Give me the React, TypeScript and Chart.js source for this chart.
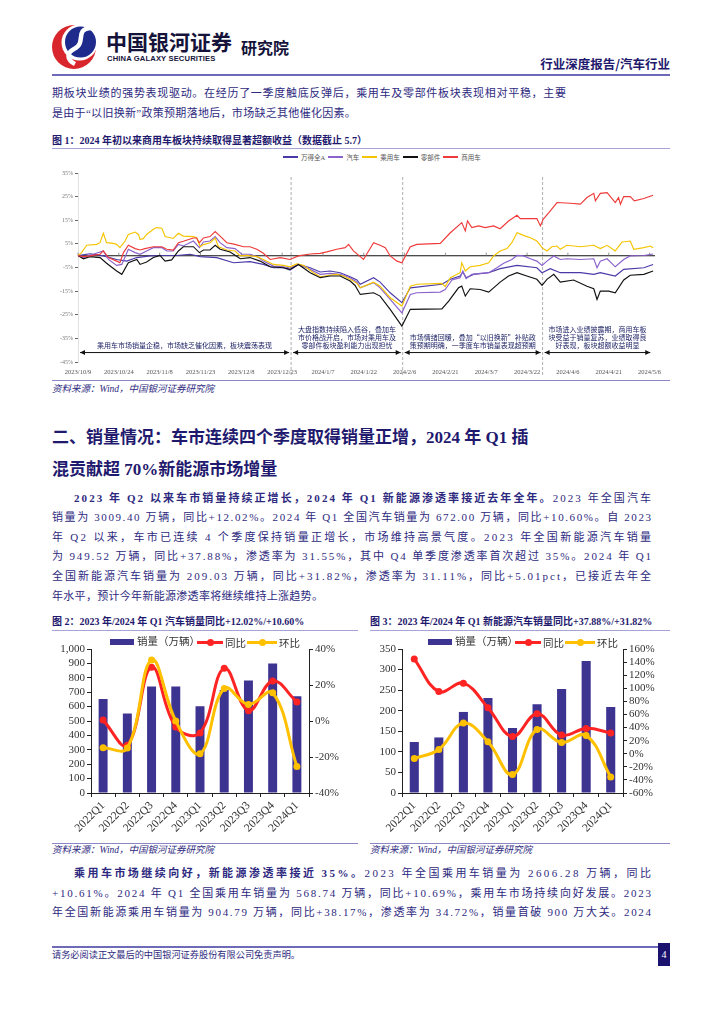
import React, { useEffect, useLayoutEffect, useRef } from "react";
import { Chart, registerables } from "chart.js";

Chart.register(...registerables);

const SERIF = "'Liberation Serif', 'Noto Sans CJK SC', serif";
const TXT = "#2e2a80";
const HEAD = "#1f1a6e";

// ---------------- Figure 1: relative returns (day offset from 2023/10/9, %) ----------------
const fig1Names = ["万得全A", "汽车", "乘用车", "零部件", "商用车"];
const fig1Colors = ["#4a3aa8", "#8a62cc", "#f5c400", "#111111", "#ef3a3a"];
const fig1TickDays = [0, 15, 30, 45, 60, 75, 90, 105, 120, 135, 150, 165, 180, 195, 210];
const fig1TickLabels = [
  "2023/10/9", "2023/10/24", "2023/11/8", "2023/11/23", "2023/12/8", "2023/12/23", "2024/1/7",
  "2024/1/22", "2024/2/6", "2024/2/21", "2024/3/7", "2024/3/22", "2024/4/6", "2024/4/21", "2024/5/6",
];
const fig1YTicks = [-45, -35, -25, -15, -5, 5, 15, 25, 35];

const wdaDays = [0, 4.4, 9.3, 14.2, 17.9, 21.6, 26.5, 31.4, 36.3, 41.2, 44.9, 51, 57.1, 63.2, 68.1, 71.8, 75.5, 77.9, 81, 85.3, 89, 92.6, 96.3, 100, 102.5, 103.7, 108.6, 111, 114.7, 119, 122.1, 133.7, 136.8, 140.4, 141.4, 142.6, 145.3, 150.9, 155.1, 161.3, 168.6, 170.5, 173.5, 177.2, 184.6, 189.5, 191.9, 197.4, 200.5, 207.9, 211.3];
const wdaVals = [0, 0.8, -0.1, -1.6, -2.3, -0.8, -0.1, 0.1, 0.1, 0.6, -0.4, -0.8, -3, -2.5, -3.7, -5.1, -5.1, -6.1, -3.7, -5.1, -6.9, -6.5, -7.2, -8.9, -10.3, -12.1, -9.3, -11.2, -15.7, -19.9, -13.6, -12.1, -10, -8.6, -6.9, -9.3, -7.9, -7.2, -5.5, -4.1, -5.1, -7.2, -5.5, -7.2, -7.2, -7.9, -7.2, -8.6, -5.8, -5.1, -3.7];

const autoDays = [0, 2, 5.6, 9.3, 11.2, 14.2, 16.1, 18.5, 21, 22.8, 25.2, 27.7, 30.8, 32.6, 35, 36.9, 38.7, 42.4, 44.6, 46.1, 48.5, 50.4, 52.2, 54.7, 57.7, 60.2, 63.2, 65.7, 68.1, 71.8, 75.5, 77.9, 81, 85.3, 89, 92.6, 96.3, 100, 102.5, 103.7, 108.6, 111, 114.7, 119, 122.1, 124.5, 133.1, 134.9, 137.4, 140.4, 141.4, 142.6, 144.7, 147.8, 150.9, 153.9, 156.4, 159.4, 161.3, 163.7, 166.2, 168.6, 170.5, 172.3, 174.8, 177.2, 179.6, 184.6, 189.5, 190.7, 191.9, 194.4, 197.4, 200.5, 202.9, 207.9, 211.3];
const autoVals = [0, -0.8, 0.6, 2, -1.6, -4.1, -3.7, 2.7, 1.3, 0.6, 2, 3.4, 3.4, 2, 2, 4.8, 4.1, 6.2, 3.4, 5.8, 6.2, 8.1, 5.5, 3.4, 3, 0.6, 0.6, -0.4, -2.3, -4.4, -4.7, -5.2, -3.7, -5.8, -7.9, -7.5, -7.9, -9.3, -11.2, -13.6, -11.4, -13.6, -18.5, -24.2, -16.4, -15.7, -15.4, -14.3, -10.3, -9.3, -6.5, -9.7, -7.9, -7.5, -7.2, -5.1, -3.2, -1.6, 0.1, -0.1, -1.3, -2.3, -4.1, -2.3, -0.1, -1.6, -1.3, -1.6, -1.3, -5.1, -2.3, -1.3, -4.7, -1.6, -0.1, 0.1, 0.7];

const pvDays = [0, 1.3, 3.2, 6.9, 8.1, 9.3, 10.5, 13, 14.2, 15.4, 17.3, 18.5, 21, 22.2, 22.8, 24, 25.2, 27.7, 28.9, 30.8, 32, 35, 36.9, 38.7, 42.4, 43.6, 44.9, 46.1, 48.5, 50.4, 51.6, 54.7, 57.7, 59.6, 62, 65.7, 68.1, 71.8, 75.5, 77.9, 80.4, 82.8, 86.5, 89, 92.6, 95.1, 97.5, 100, 102.5, 103.7, 108.6, 111, 114.7, 119, 122.1, 124.5, 133.7, 134.9, 136.8, 140.4, 141, 142.3, 144.1, 147.8, 150.9, 152.7, 155.1, 157.6, 159.4, 161.3, 163.7, 166.2, 168.6, 170.5, 172.3, 174.1, 176, 177.2, 179.6, 184.6, 189.5, 191.9, 194.4, 197.4, 199.9, 202.9, 204.2, 207.9, 210.3, 211.3];
const pvVals = [0, 1.3, 4.4, 4.8, 5.5, 9.5, 5.5, 5.2, 4.8, 3.4, 6.2, 9, 10, 9, 6.9, 7.2, 9, 11.2, 11.9, 11.6, 8.1, 7.3, 9.5, 8.3, 8.1, 7.6, 3.8, 4.7, 5.5, 7.5, 3.8, 2.4, 2, -0.1, 0.1, -0.4, -1.6, -3.7, -4.1, -4.7, -3.5, -4.1, -7.2, -8.9, -8.3, -7.9, -8.6, -10, -11.7, -13.6, -11.2, -12.9, -17.8, -21.3, -12.9, -12.1, -11.7, -13.1, -9.3, -7.2, -3, -6.5, -4.7, -4.1, -3, -0.1, 2, 3, 5.5, 9.7, 8.6, 7.6, 6.2, 3.4, 2, 3.8, 4.1, 2.7, 4.4, 3.8, 4.4, 3, 4.4, 2, 5.8, 6.2, 2.7, 3.4, 4.1, 3.4];

const partsDays = [0, 2, 4.4, 8.1, 10.5, 14.2, 16.1, 18.5, 21.6, 22.8, 25.2, 27.7, 30.1, 32, 34.4, 36.9, 38.7, 42.4, 44.6, 46.1, 48.5, 50.4, 52.2, 55.9, 59.6, 63.2, 66.9, 70.6, 75.5, 77.9, 81, 85.3, 89, 92.6, 96.3, 100, 101.8, 103.7, 108.6, 111, 114.7, 119, 122.1, 133.7, 136.2, 139.8, 141, 142.3, 144.1, 147.8, 150.9, 155.1, 158.2, 161.3, 164.9, 168.6, 170.5, 172.3, 174.8, 177.2, 182.1, 187, 189.5, 190.7, 191.9, 195, 197.4, 200.5, 202.9, 207.9, 211.3];
const partsVals = [0, -1.3, -0.4, -0.8, -3.2, -6.5, -7.9, -3, -1.6, -3.7, -2.7, -0.8, 0.1, -2.3, -1.8, 2, 3.8, 3.8, 1.3, 2.4, 2.4, 4.4, 2.7, 1.6, -1.3, -0.8, -2.3, -4.7, -5.1, -5.8, -3.7, -7.2, -9.3, -8.6, -8.6, -10.7, -12.6, -16.4, -15.7, -17.1, -22.7, -29.8, -22.7, -22.5, -19.2, -13.6, -12.9, -17.1, -14, -14.3, -15.4, -11.2, -8.6, -7.2, -8.6, -10, -12.6, -10, -7.9, -11.2, -10.3, -12.9, -14, -18.5, -15, -15, -15.7, -10.3, -8.3, -7.9, -6.5];

const cvDays = [0, 2, 4.4, 8.1, 9.3, 11.2, 14.2, 15.4, 16.7, 18.5, 21, 22.8, 24.6, 27.7, 30.8, 32.6, 35, 36.9, 38.7, 42.4, 43.6, 44.6, 46.1, 48.5, 50.4, 52.2, 54.7, 57.7, 60.8, 63.2, 65.7, 68.1, 70.6, 74.3, 77.9, 81, 85.3, 89, 91.4, 95.1, 98.2, 99.4, 101.2, 103.7, 104.9, 108.6, 111, 112.9, 114.7, 117.2, 119, 122.1, 124.5, 133.1, 136.8, 141, 142.3, 143.1, 144.7, 147.2, 149.6, 152.7, 155.1, 158.2, 161.3, 162.5, 165, 168.6, 169.9, 170.9, 173, 176, 180.9, 184.6, 187, 189.5, 190.1, 191.9, 194.4, 197.4, 198.6, 199.3, 200.5, 202.9, 204.4, 207.9, 211.3];
const cvVals = [0, -0.4, -0.1, 0.6, 2, -0.8, -2.3, -3, 1.3, 4.4, 3, 2.4, 3, 3.8, 3.8, 2.7, 2.4, 5.5, 6.1, 7.5, 7.5, 5.5, 7.5, 8.1, 10.2, 8.3, 5.5, 4.8, 3.8, 3.8, 2.7, 1, -1.6, -0.8, -1.6, -0.1, 0.7, 1, 1.6, 2.7, 3.4, 4.8, 2, -0.4, -1.6, 5.5, 4.4, 3.4, -0.1, -2.3, -3, 3.8, 4.8, 5.2, 9.7, 14, 10.5, 14.7, 11.9, 12.6, 11.9, 12.6, 11.4, 14.7, 17.1, 15.7, 15.7, 15.7, 12.6, 15.4, 18.2, 22.5, 22.2, 21.8, 24.6, 26.4, 23.2, 26.4, 26.7, 22.5, 24.6, 21.8, 25, 25, 23.2, 24.2, 25.6];

const fig1PhaseBreaks = [78.3, 119.3, 170.7];
const fig1PhaseTexts = [
  ["乘用车市场销量企稳，市场缺乏催化因素，板块震荡表现"],
  ["大盘指数持续陷入低谷，叠加车", "市价格战开启，市场对乘用车及", "零部件板块盈利能力出现担忧"],
  ["市场情绪回暖，叠加“以旧换新”补贴政", "策预期明确，一季度车市销量表现超预期"],
  ["市场进入业绩披露期，商用车板", "块受益于销量复苏，业绩取得良", "好表现，板块超额收益明显"],
];
const fig1ArrowValue = -41;

// ---------------- Figure 2 / 3: quarterly sales ----------------
const quarters = ["2022Q1", "2022Q2", "2022Q3", "2022Q4", "2023Q1", "2023Q2", "2023Q3", "2023Q4", "2024Q1"];
const fig2Sales = [652, 552, 740, 740, 603, 715, 782, 900, 672];
const fig2Yoy = [0.5, -13.5, 29.9, -3.3, -6.6, 29.3, 5.7, 22.2, 10.6];
const fig2Qoq = [-14.8, -15.0, 33.9, 0.0, -18.2, 18.1, 9.2, 15.7, -25.3];
const fig3Sales = [124, 135, 197, 231, 158, 216, 253, 321, 209];
const fig3Yoy = [144.6, 95.0, 107.8, 70.4, 26.4, 61.2, 28.5, 38.7, 31.8];
const fig3Qoq = [-7.3, 6.5, 46.9, 18.3, -31.9, 37.2, 17.2, 28.0, -35.4];

const BAR = "#3d3391";
const RED = "#ff2424";
const YEL = "#ffc000";

const zip = (xs: number[], ys: number[]) => xs.map((x, i) => ({ x, y: ys[i] }));

const fig1Overlay = {
  id: "fig1Overlay",
  beforeDatasetsDraw(chart: any) {
    const { ctx, chartArea, scales } = chart;
    const xs = scales.x;
    const ys = scales.y;
    const y0 = ys.getPixelForValue(0);
    ctx.save();
    ctx.strokeStyle = "#111";
    ctx.lineWidth = 1.1;
    ctx.beginPath();
    ctx.moveTo(chartArea.left, y0);
    ctx.lineTo(chartArea.right, y0);
    ctx.stroke();
    ctx.strokeStyle = "#777";
    ctx.lineWidth = 0.8;
    fig1TickDays.forEach((d) => {
      const px = xs.getPixelForValue(d);
      ctx.beginPath();
      ctx.moveTo(px, y0);
      ctx.lineTo(px, y0 - 3);
      ctx.stroke();
    });
    ctx.setLineDash([3, 2]);
    ctx.strokeStyle = "#999";
    fig1PhaseBreaks.forEach((d) => {
      const px = xs.getPixelForValue(d);
      ctx.beginPath();
      ctx.moveTo(px, chartArea.top + 4);
      ctx.lineTo(px, chartArea.bottom + 14);
      ctx.stroke();
    });
    ctx.restore();
  },
  afterDatasetsDraw(chart: any) {
    const { ctx, scales } = chart;
    const xs = scales.x;
    const ys = scales.y;
    const ay = ys.getPixelForValue(fig1ArrowValue);
    const starts = [fig1TickDays[0], ...fig1PhaseBreaks];
    const ends = [...fig1PhaseBreaks, xs.max - 1];
    ctx.save();
    fig1PhaseTexts.forEach((lines, i) => {
      const x1 = xs.getPixelForValue(starts[i]) + 2;
      const x2 = xs.getPixelForValue(ends[i]) - 2;
      ctx.strokeStyle = "#111";
      ctx.fillStyle = "#111";
      ctx.lineWidth = 1;
      ctx.beginPath();
      ctx.moveTo(x1, ay);
      ctx.lineTo(x2, ay);
      ctx.stroke();
      [[x1, 1], [x2, -1]].forEach(([x, dir]) => {
        ctx.beginPath();
        ctx.moveTo(x, ay);
        ctx.lineTo(x + dir * 5, ay - 2.5);
        ctx.lineTo(x + dir * 5, ay + 2.5);
        ctx.closePath();
        ctx.fill();
      });
      const cx = (x1 + x2) / 2;
      ctx.fillStyle = "#1f2466";
      ctx.font = "7px 'Noto Sans CJK SC', sans-serif";
      ctx.textAlign = "center";
      ctx.textBaseline = "middle";
      const n = lines.length;
      lines.forEach((t, j) => {
        ctx.fillText(t, cx, ay - 7 - (n - 1 - j) * 8);
      });
    });
    ctx.restore();
  },
};

function makeFig1(): any {
  const sets = [
    [wdaDays, wdaVals],
    [autoDays, autoVals],
    [pvDays, pvVals],
    [partsDays, partsVals],
    [cvDays, cvVals],
  ];
  return {
    type: "line",
    data: {
      datasets: sets.map(([d, v], i) => ({
        label: fig1Names[i],
        data: zip(d, v),
        borderColor: fig1Colors[i],
        backgroundColor: fig1Colors[i],
        borderWidth: 1.15,
        pointRadius: 0,
        tension: 0,
        order: i === 4 ? 0 : 5 - i,
      })),
    },
    options: {
      animation: false,
      responsive: false,
      layout: { padding: { top: 23, right: 15, left: 0, bottom: 0 } },
      plugins: { legend: { display: false }, tooltip: { enabled: false } },
      scales: {
        x: {
          type: "linear",
          min: 0,
          max: 212,
          afterBuildTicks: (s: any) => {
            s.ticks = fig1TickDays.map((v) => ({ value: v }));
          },
          ticks: {
            callback: (_v: any, i: number) => fig1TickLabels[i],
            autoSkip: false,
            maxRotation: 0,
            minRotation: 0,
            font: { size: 6.5, family: SERIF },
            color: "#555",
            padding: 6,
          },
          grid: { display: false, drawTicks: false },
          border: { display: false },
          afterFit: (s: any) => {
            s.height = 18;
          },
        },
        y: {
          min: -45,
          max: 35,
          afterBuildTicks: (s: any) => {
            s.ticks = fig1YTicks.map((v) => ({ value: v }));
          },
          ticks: {
            callback: (v: any) => v + "%",
            autoSkip: false,
            font: { size: 6, family: SERIF },
            color: "#777",
            padding: 2,
          },
          grid: { drawOnChartArea: false, tickLength: 3, color: "#666" },
          border: { color: "#e2e2e2" },
          afterFit: (s: any) => {
            s.width = 28;
          },
        },
      },
    },
    plugins: [fig1Overlay],
  };
}

function makeBarLine(sales: number[], yoy: number[], qoq: number[], lmax: number, lstep: number, rmin: number, rmax: number, lw: number, rw: number): any {
  const tickFont = { size: 11, family: SERIF };
  return {
    type: "bar",
    data: {
      labels: quarters,
      datasets: [
        { type: "line", label: "环比", data: qoq, yAxisID: "y1", borderColor: YEL, backgroundColor: YEL, borderWidth: 3, pointRadius: 3.5, pointBorderWidth: 0, tension: 0.4, order: 0 },
        { type: "line", label: "同比", data: yoy, yAxisID: "y1", borderColor: RED, backgroundColor: RED, borderWidth: 3, pointRadius: 3.5, pointBorderWidth: 0, tension: 0.4, order: 1 },
        { type: "bar", label: "销量（万辆）", data: sales, yAxisID: "y", backgroundColor: BAR, barPercentage: 0.37, categoryPercentage: 1, order: 2 },
      ],
    },
    options: {
      animation: false,
      responsive: false,
      layout: { padding: { top: 17, right: 0, left: 0, bottom: 0 } },
      plugins: { legend: { display: false }, tooltip: { enabled: false } },
      scales: {
        x: {
          ticks: { maxRotation: 45, minRotation: 45, autoSkip: false, font: { size: 11.5, family: SERIF }, color: "#333", padding: 2 },
          grid: { drawOnChartArea: false, tickLength: 4, color: "#222" },
          border: { color: "#222" },
          afterFit: (s: any) => {
            s.height = 49;
          },
        },
        y: {
          position: "left",
          min: 0,
          max: lmax,
          ticks: { stepSize: lstep, autoSkip: false, callback: (v: any) => Number(v).toLocaleString("en-US"), font: tickFont, color: "#333", padding: 2 },
          grid: { drawOnChartArea: false, tickLength: 4, color: "#222" },
          border: { color: "#222" },
          afterFit: (s: any) => {
            s.width = lw;
          },
        },
        y1: {
          position: "right",
          min: rmin,
          max: rmax,
          ticks: { stepSize: 20, autoSkip: false, callback: (v: any) => v + "%", font: tickFont, color: "#333", padding: 2 },
          grid: { drawOnChartArea: false, tickLength: 4, color: "#222" },
          border: { color: "#222" },
          afterFit: (s: any) => {
            s.width = rw;
          },
        },
      },
    },
  };
}

function ChartBox({ make, left, top, width, height }: { make: () => any; left: number; top: number; width: number; height: number }) {
  const ref = useRef<HTMLCanvasElement>(null);
  useEffect(() => {
    const chart = new Chart(ref.current as HTMLCanvasElement, make());
    return () => chart.destroy();
  }, []);
  return (
    <canvas
      ref={ref}
      width={width}
      height={height}
      style={{ position: "absolute", left, top, width, height }}
    />
  );
}

type TProps = {
  x: number;
  y: number;
  size: number;
  bold?: boolean;
  italic?: boolean;
  color?: string;
  right?: boolean;
  ls?: number;
  family?: string;
  children: React.ReactNode;
};

function T({ x, y, size, bold, italic, color, right, ls, family, children }: TProps) {
  const h = Math.round(size * 1.4);
  const style: React.CSSProperties = {
    position: "absolute",
    top: y - h / 2,
    height: h,
    lineHeight: h + "px",
    fontSize: size,
    fontFamily: family || SERIF,
    fontWeight: bold ? 700 : 400,
    fontStyle: italic ? "italic" : "normal",
    color: color || TXT,
    letterSpacing: ls === undefined ? 0 : ls,
    whiteSpace: "nowrap",
  };
  if (right) {
    style.right = 724 - x;
  } else {
    style.left = x;
  }
  return <div style={style}>{children}</div>;
}

// A line of body text spread to an exact width by measuring and setting letter-spacing.
function J({ x, y, w, size, children }: { x: number; y: number; w: number; size: number; children: React.ReactNode }) {
  const ref = useRef<HTMLSpanElement>(null);
  useLayoutEffect(() => {
    const el = ref.current;
    if (!el) return;
    el.style.letterSpacing = "0px";
    const nat = el.getBoundingClientRect().width;
    const n = (el.textContent || "").length;
    if (n > 1) el.style.letterSpacing = (w - nat) / (n - 1) + "px";
  }, []);
  const h = Math.round(size * 1.4);
  return (
    <div style={{ position: "absolute", left: x, top: y - h / 2, height: h, lineHeight: h + "px", fontSize: size, fontFamily: SERIF, color: TXT, whiteSpace: "nowrap" }}>
      <span ref={ref}>{children}</span>
    </div>
  );
}

function HLine({ x, y, w, h, c }: { x: number; y: number; w: number; h: number; c: string }) {
  return <div style={{ position: "absolute", left: x, top: y, width: w, height: h, background: c }} />;
}

function Legend3({ x, y }: { x: number; y: number }) {
  const item = (color: string, label: string, dx: number, lineW: number) => (
    <div style={{ position: "absolute", left: dx, top: 0, height: 14, display: "flex", alignItems: "center" }}>
      <div style={{ position: "relative", width: lineW, height: 14 }}>
        <div style={{ position: "absolute", left: 0, top: 5.5, width: lineW, height: 3, background: color }} />
        <div style={{ position: "absolute", left: lineW / 2 - 3.5, top: 3.5, width: 7, height: 7, borderRadius: 4, background: color }} />
      </div>
      <span style={{ marginLeft: 2, fontSize: 10.5, fontFamily: SERIF, color: "#333" }}>{label}</span>
    </div>
  );
  return (
    <div style={{ position: "absolute", left: x, top: y - 7, width: 200, height: 14 }}>
      <div style={{ position: "absolute", left: 0, top: 4, width: 24, height: 6, background: BAR }} />
      <span style={{ position: "absolute", left: 27, top: 0, lineHeight: "14px", fontSize: 10.5, fontFamily: SERIF, color: "#333", whiteSpace: "nowrap" }}>销量（万辆）</span>
      {item(RED, "同比", 87, 26)}
      {item(YEL, "环比", 137, 30)}
    </div>
  );
}

function Logo() {
  return (
    <svg style={{ position: "absolute", left: 50, top: 21 }} width="50" height="48" viewBox="0 0 50 48">
      <circle cx="24" cy="26" r="22" fill="#d9262c" />
      <circle cx="29.5" cy="21.5" r="18" fill="#ffffff" />
      <circle cx="30.5" cy="21" r="15.5" fill="#1e2b8c" />
      <path d="M 41 7 C 24 8, 37 22, 24 28 C 16 32, 17 39, 25 43" stroke="#ffffff" strokeWidth="4.5" fill="none" />
    </svg>
  );
}

export default function App() {
  return (
    <div style={{ position: "absolute", left: 0, top: 0, width: 724, height: 1024, background: "#fff", overflow: "hidden" }}>
      <Logo />
      <T x={106} y={41} size={21} bold color="#15133a" family="'Noto Sans CJK SC', sans-serif">中国银河证券</T>
      <T x={107} y={58} size={7.6} bold color="#15133a" family="'Liberation Sans', Arial, sans-serif" ls={0.15}>CHINA GALAXY SECURITIES</T>
      <T x={241} y={47} size={16} bold color="#15133a" family="'Noto Sans CJK SC', sans-serif">研究院</T>
      <T x={670} y={64} size={12.5} bold right color={HEAD} family="'Noto Sans CJK SC', sans-serif">行业深度报告/汽车行业</T>
      <HLine x={52} y={74} w={618} h={2} c="#6f6ab8" />

      <J x={52} y={93} size={11} w={514}>期板块业绩的强势表现驱动。在经历了一季度触底反弹后，乘用车及零部件板块表现相对平稳，主要</J>
      <T x={52} y={113} size={11} ls={0.3}>是由于“以旧换新”政策预期落地后，市场缺乏其他催化因素。</T>

      <T x={52} y={141} size={10} bold color={HEAD}>图 1：2024 年初以来商用车板块持续取得显著超额收益（数据截止 5.7）</T>
      <HLine x={52} y={148} w={618} h={1} c="#a7a3d6" />
      <div style={{ position: "absolute", left: 283, top: 151, height: 12, display: "flex", alignItems: "center", gap: 3 }}>
        {fig1Names.map((n, i) => (
          <div key={n} style={{ display: "flex", alignItems: "center" }}>
            <div style={{ width: 15, height: 1.3, background: fig1Colors[i] }} />
            <span style={{ marginLeft: 3, fontSize: 6.5, color: "#555", fontFamily: SERIF, whiteSpace: "nowrap" }}>{n}</span>
          </div>
        ))}
      </div>
      <ChartBox make={makeFig1} left={50} top={150} width={620} height={230} />
      <HLine x={52} y={380} w={618} h={1} c="#8b86c8" />
      <T x={52} y={389} size={9.5} italic>资料来源：Wind，中国银河证券研究院</T>

      <T x={52} y={438} size={17} bold color={HEAD}>二、销量情况：车市连续四个季度取得销量正增，2024 年 Q1 插</T>
      <T x={52} y={470} size={17} bold color={HEAD}>混贡献超 70%新能源市场增量</T>

      <J x={74} y={498} size={11} w={577}>
        <b>2023 年 Q2 以来车市销量持续正增长，2024 年 Q1 新能源渗透率接近去年全年。</b>2023 年全国汽车
      </J>
      <J x={52} y={517} size={11} w={599}>销量为 3009.40 万辆，同比+12.02%。2024 年 Q1 全国汽车销量为 672.00 万辆，同比+10.60%。自 2023</J>
      <J x={52} y={537} size={11} w={599}>年 Q2 以来，车市已连续 4 个季度保持销量正增长，市场维持高景气度。2023 年全国新能源汽车销量</J>
      <J x={52} y={556} size={11} w={599}>为 949.52 万辆，同比+37.88%，渗透率为 31.55%，其中 Q4 单季度渗透率首次超过 35%。2024 年 Q1</J>
      <J x={52} y={576} size={11} w={599}>全国新能源汽车销量为 209.03 万辆，同比+31.82%，渗透率为 31.11%，同比+5.01pct，已接近去年全</J>
      <T x={52} y={596} size={11} ls={0.3}>年水平，预计今年新能源渗透率将继续维持上涨趋势。</T>

      <T x={52} y={622} size={10} bold color={HEAD}>图 2：2023 年/2024 年 Q1 汽车销量同比+12.02%/+10.60%</T>
      <T x={370} y={622} size={10} bold color={HEAD}>图 3：2023 年/2024 年 Q1 新能源汽车销量同比+37.88%/+31.82%</T>
      <HLine x={52} y={630} w={306} h={1} c="#a7a3d6" />
      <HLine x={370} y={630} w={300} h={1} c="#a7a3d6" />

      <ChartBox make={() => makeBarLine(fig2Sales, fig2Yoy, fig2Qoq, 1000, 100, -40, 40, 41, 51)} left={50} top={632} width={310} height={210} />
      <ChartBox make={() => makeBarLine(fig3Sales, fig3Yoy, fig3Qoq, 350, 50, -60, 160, 42, 47)} left={360} top={632} width={310} height={210} />
      <Legend3 x={110} y={642} />
      <Legend3 x={428} y={642} />

      <HLine x={52} y={843} w={306} h={1} c="#8b86c8" />
      <HLine x={370} y={843} w={300} h={1} c="#8b86c8" />
      <T x={52} y={850} size={9.5} italic>资料来源：Wind，中国银河证券研究院</T>
      <T x={370} y={850} size={9.5} italic>资料来源：Wind，中国银河证券研究院</T>

      <J x={74} y={873} size={11} w={577}>
        <b>乘用车市场继续向好，新能源渗透率接近 35%。</b>2023 年全国乘用车销量为 2606.28 万辆，同比
      </J>
      <J x={52} y={893} size={11} w={599}>+10.61%。2024 年 Q1 全国乘用车销量为 568.74 万辆，同比+10.69%，乘用车市场持续向好发展。2023</J>
      <J x={52} y={912} size={11} w={599}>年全国新能源乘用车销量为 904.79 万辆，同比+38.17%，渗透率为 34.72%，销量首破 900 万大关。2024</J>

      <HLine x={52} y={946} w={606} h={2} c="#6f6ab8" />
      <T x={52} y={955} size={9.2}>请务必阅读正文最后的中国银河证券股份有限公司免责声明。</T>
      <div style={{ position: "absolute", left: 658, top: 943, width: 12, height: 23, background: "#1b1270", color: "#fff", fontSize: 10, fontFamily: SERIF, textAlign: "center", lineHeight: "23px" }}>4</div>
    </div>
  );
}
